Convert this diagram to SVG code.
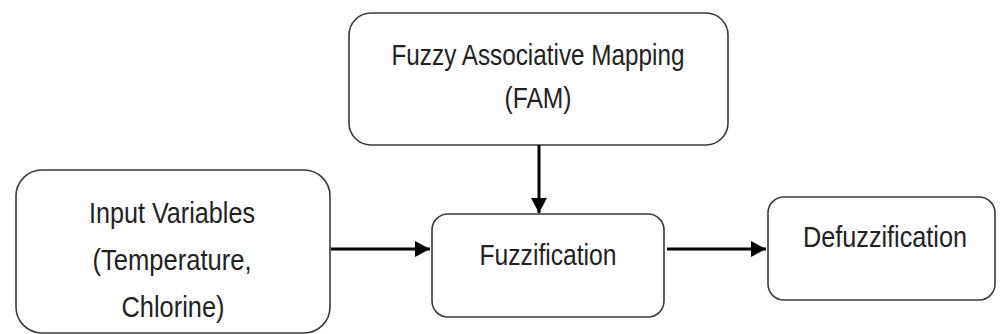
<svg xmlns="http://www.w3.org/2000/svg" width="1002" height="334" viewBox="0 0 1002 334">
  <style>
    .box { fill: #ffffff; stroke: #3a3a3a; stroke-width: 1.6; }
    .label { font-family: "Liberation Sans", Arial, sans-serif; font-size: 30px; fill: #222222; text-anchor: middle; }
    .edge { stroke: #000000; stroke-width: 3; fill: none; }
  </style>
  <defs>
    <marker id="arrow" viewBox="0 0 15 16" refX="15" refY="8" markerWidth="15" markerHeight="16" markerUnits="userSpaceOnUse" orient="auto">
      <path d="M0,0 L15,8 L0,16 Z" fill="#000000"/>
    </marker>
  </defs>
  <rect width="1002" height="334" fill="#ffffff"/>

  <g id="fam">
    <rect class="box" x="349" y="13" width="379" height="132" rx="22" ry="22"/>
    <text class="label" x="538" y="65" textLength="293" lengthAdjust="spacingAndGlyphs">Fuzzy Associative Mapping</text>
    <text class="label" x="538" y="108" textLength="67" lengthAdjust="spacingAndGlyphs">(FAM)</text>
  </g>

  <g id="input">
    <rect class="box" x="16" y="170" width="314" height="163" rx="26" ry="26"/>
    <text class="label" x="172" y="223" textLength="166" lengthAdjust="spacingAndGlyphs">Input Variables</text>
    <text class="label" x="172" y="270" textLength="159" lengthAdjust="spacingAndGlyphs">(Temperature,</text>
    <text class="label" x="173" y="317" textLength="103" lengthAdjust="spacingAndGlyphs">Chlorine)</text>
  </g>

  <g id="fuzzification">
    <rect class="box" x="432" y="214" width="232" height="103" rx="16" ry="16"/>
    <text class="label" x="548" y="265" textLength="137" lengthAdjust="spacingAndGlyphs">Fuzzification</text>
  </g>

  <g id="defuzzification">
    <rect class="box" x="768" y="197" width="227" height="103" rx="16" ry="16"/>
    <text class="label" x="885" y="247" textLength="164" lengthAdjust="spacingAndGlyphs">Defuzzification</text>
  </g>

  <g id="connectors">
    <line class="edge" x1="539" y1="145" x2="539" y2="213" marker-end="url(#arrow)"/>
    <line class="edge" x1="331" y1="249" x2="430" y2="249" marker-end="url(#arrow)"/>
    <line class="edge" x1="667" y1="249" x2="766" y2="249" marker-end="url(#arrow)"/>
  </g>
</svg>
